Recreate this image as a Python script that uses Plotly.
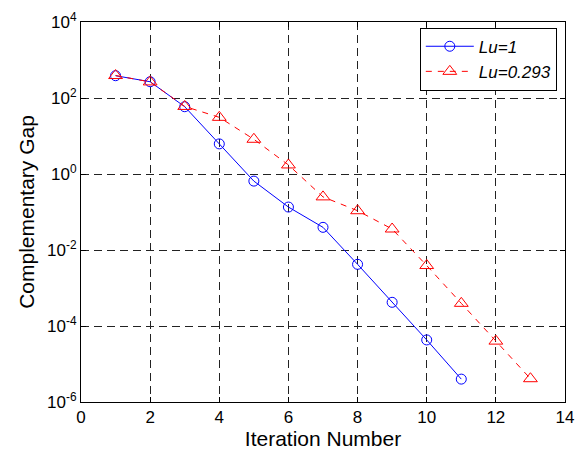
import plotly.graph_objects as go

iters_a = [1, 2, 3, 4, 5, 6, 7, 8, 9, 10, 11]
gap_a = [386, 268, 59, 6.2, 0.65, 0.135, 0.0395, 0.0042, 4.2e-4, 4.3e-5, 4.0e-6]
iters_b = [1, 2, 3, 4, 5, 6, 7, 8, 9, 10, 11, 12, 13]
gap_b = [390, 265, 60, 31, 8.2, 1.73, 0.25, 0.108, 0.0357, 0.0039, 3.95e-4, 4.0e-5, 4.1e-6]
x_ticks = [0, 2, 4, 6, 8, 10, 12, 14]
y_exps = [-6, -4, -2, 0, 2, 4]

font = "Liberation Sans, Arial, sans-serif"

fig = go.Figure()
fig.add_trace(go.Scatter(
    x=iters_a, y=gap_a, mode="lines+markers", name="<i>Lu=1</i>",
    line=dict(color="#0000ff", width=1),
    marker=dict(symbol="circle-open", size=10, color="#0000ff", line=dict(width=1)),
))
fig.add_trace(go.Scatter(
    x=iters_b, y=gap_b, mode="lines+markers", name="<i>Lu=0.293</i>",
    line=dict(color="#ff0000", width=1, dash="6px,6px"),
    marker=dict(symbol="triangle-up-open", size=12, color="#ff0000", line=dict(width=1)),
))

fig.update_layout(
    width=583, height=450,
    margin=dict(l=81, r=18, t=22, b=48, autoexpand=False),
    paper_bgcolor="white", plot_bgcolor="white",
    font=dict(family=font, size=17, color="black"),
    showlegend=True,
    legend=dict(
        x=0.700, y=0.985, xanchor="left", yanchor="top",
        bgcolor="white", bordercolor="black", borderwidth=1,
        font=dict(size=17, family=font),
        tracegroupgap=0, itemwidth=48,
    ),
)
fig.update_xaxes(
    range=[0, 14], tickvals=x_ticks, ticktext=[str(v) for v in x_ticks],
    showline=True, linecolor="black", linewidth=1, mirror="ticks",
    ticks="inside", ticklen=5, tickcolor="black",
    showgrid=True, gridcolor="#222222", griddash="8px,5px", gridwidth=1,
    zeroline=False, automargin=False,
    tickfont=dict(size=17),
    title=dict(text="Iteration Number", font=dict(size=21), standoff=2),
)
fig.update_yaxes(
    type="log", range=[-6, 4],
    tickvals=[10 ** e for e in y_exps],
    ticktext=["10<sup>%d</sup>" % e for e in y_exps],
    showline=True, linecolor="black", linewidth=1, mirror="ticks",
    ticks="inside", ticklen=5, tickcolor="black",
    showgrid=True, gridcolor="#222222", griddash="8px,5px", gridwidth=1,
    zeroline=False, automargin=False,
    tickfont=dict(size=17),
    title=dict(text="Complementary Gap", font=dict(size=21), standoff=6),
)

fig.write_html("out.html")
